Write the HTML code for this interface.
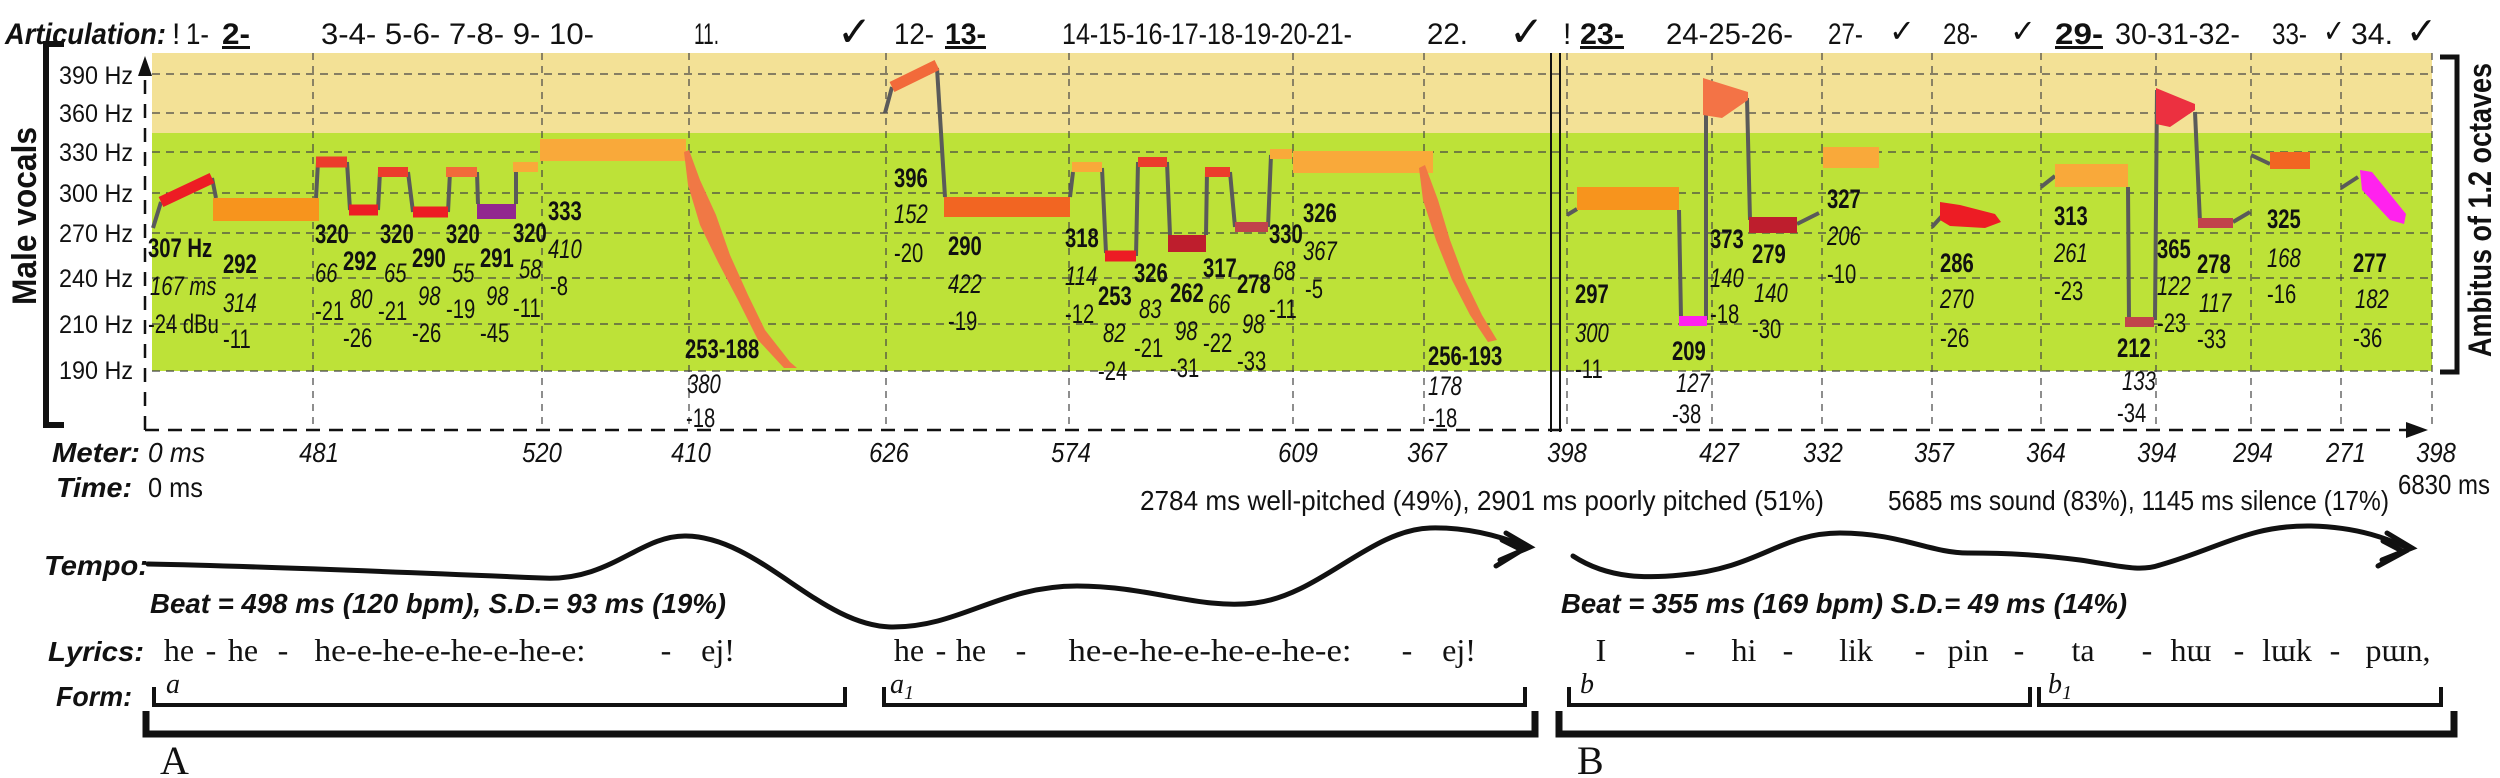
<!DOCTYPE html>
<html><head><meta charset="utf-8"><style>
html,body{margin:0;padding:0;background:#fff;}
svg{display:block;}
text{font-family:"Liberation Sans",sans-serif;fill:#111;}
.s text, text.s{font-family:"Liberation Serif",serif;}
.n{font-size:27px;}
.b{font-weight:bold;}
.i{font-style:italic;}
.bi{font-weight:bold;font-style:italic;}
.g{stroke:#5a5a5a;stroke-width:4;fill:none;}
.dv{stroke:#444;stroke-width:1.2;stroke-dasharray:7 6;fill:none;}
.dh{stroke:#444;stroke-width:1.2;stroke-dasharray:8 6;fill:none;}
</style></head><body>
<svg width="2500" height="778" viewBox="0 0 2500 778" xmlns="http://www.w3.org/2000/svg">
<rect x="152" y="53" width="2280" height="80" fill="#f3e196"/>
<rect x="152" y="133" width="2280" height="238" fill="#bde238"/>
<g class="dh">
<path d="M152 74H2432M152 113H2432M152 152H2432M152 193H2432M152 233H2432M152 278H2432M152 324H2432M152 371H2432"/>
</g>
<g class="dv">
<path d="M313 53V430M542 53V430M689 53V430M886 53V430M1069 53V430M1293 53V430M1424 53V430M1567 53V430M1712 53V430M1822 53V430M1932 53V430M2041 53V430M2156 53V430M2251 53V430M2341 53V430M2432 53V430"/>
</g>
<path d="M145 430V70" stroke="#111" stroke-width="2.5" stroke-dasharray="14 10" fill="none"/>
<path d="M138 76L145 56L152 76Z" fill="#111"/>
<path d="M145 430H2418" stroke="#111" stroke-width="2.5" stroke-dasharray="14 9" fill="none"/>
<path d="M2406 422L2428 430L2406 438Z" fill="#111"/>
<path d="M1551 53V432M1560 53V432" stroke="#111" stroke-width="2"/>
<path d="M64 44H46V425H64" stroke="#111" stroke-width="6" fill="none"/>
<path d="M2440 57H2457V372H2440" stroke="#111" stroke-width="5" fill="none"/>
<text class="b" font-size="34" transform="translate(36,305) rotate(-90)" textLength="178" lengthAdjust="spacingAndGlyphs">Male vocals</text>
<text class="b" font-size="32" transform="translate(2491,357) rotate(-90)" textLength="294" lengthAdjust="spacingAndGlyphs">Ambitus of 1.2 octaves</text>
<g font-size="25">
<text x="59" y="84" textLength="74" lengthAdjust="spacingAndGlyphs">390 Hz</text>
<text x="59" y="122" textLength="74" lengthAdjust="spacingAndGlyphs">360 Hz</text>
<text x="59" y="161" textLength="74" lengthAdjust="spacingAndGlyphs">330 Hz</text>
<text x="59" y="202" textLength="74" lengthAdjust="spacingAndGlyphs">300 Hz</text>
<text x="59" y="242" textLength="74" lengthAdjust="spacingAndGlyphs">270 Hz</text>
<text x="59" y="287" textLength="74" lengthAdjust="spacingAndGlyphs">240 Hz</text>
<text x="59" y="333" textLength="74" lengthAdjust="spacingAndGlyphs">210 Hz</text>
<text x="59" y="379" textLength="74" lengthAdjust="spacingAndGlyphs">190 Hz</text>
</g>
<g class="g">
<path d="M153 228L161 202M212 178L216 198M316 198L318 162M347 162L350 210M378 210L380 172M408 172L413 212M448 212L450 172M477 172L478 204M516 204L516 167"/>
<path d="M885 113L892 87M937 68L945 197M1070 197L1073 172M1102 168L1106 253M1136 256L1138 162M1167 162L1170 235M1206 235L1207 172M1230 172L1235 227M1268 227L1271 155"/>
<path d="M1567 215L1577 209M1679 210L1681 318M1706 320L1706 82M1747 98L1750 220M1797 224L1819 213M1932 227L1942 216M2041 187L2055 176M2128 187L2129 320M2155 320L2157 90M2195 112L2200 222M2233 222L2250 212M2251 155L2270 164M2341 188L2358 177"/>
</g>
<g>
<path d="M161 202L212 178" stroke="#ed1c24" stroke-width="11"/>
<rect x="213" y="198" width="106" height="23" fill="#f7941d"/>
<path d="M316 162H347" stroke="#ec3c2c" stroke-width="11"/>
<path d="M349 210H378" stroke="#ed1c24" stroke-width="11"/>
<path d="M378 172H408" stroke="#ec3c2c" stroke-width="10"/>
<path d="M413 212H448" stroke="#ed1c24" stroke-width="11"/>
<path d="M446 172H477" stroke="#f26a3a" stroke-width="10"/>
<rect x="477" y="204" width="39" height="15" fill="#92278f"/>
<path d="M513 167H538" stroke="#f9a93a" stroke-width="10"/>
<rect x="540" y="139" width="146" height="22" fill="#f9a93a"/>
<path d="M689 150L700 180L716 215L730 255L748 295L765 330L790 362L797 368L784 368L758 340L738 300L718 262L700 225L688 185L684 152Z" fill="#f07845"/>
<path d="M892 87L937 65" stroke="#f26a3a" stroke-width="11"/>
<rect x="944" y="197" width="126" height="20" fill="#f26522"/>
<path d="M1072 167H1102" stroke="#f9a93a" stroke-width="10"/>
<path d="M1105 256H1136" stroke="#ed1c24" stroke-width="11"/>
<path d="M1138 162H1167" stroke="#ec3c2c" stroke-width="10"/>
<rect x="1168" y="235" width="38" height="17" fill="#be1e2d"/>
<path d="M1205 172H1230" stroke="#ec3c2c" stroke-width="10"/>
<path d="M1235 227H1268" stroke="#c1434b" stroke-width="10"/>
<path d="M1270 154H1292" stroke="#f9a93a" stroke-width="10"/>
<rect x="1293" y="151" width="140" height="22" fill="#f9a93a"/>
<path d="M1425 165L1438 200L1450 240L1465 280L1482 315L1497 340L1488 342L1470 315L1452 280L1436 240L1423 200L1419 168Z" fill="#f07845"/>
<rect x="1577" y="187" width="102" height="23" fill="#f7941d"/>
<path d="M1679 321H1707" stroke="#ff22ee" stroke-width="10"/>
<path d="M1703 78L1748 92L1748 100L1722 118L1703 115Z" fill="#f37346"/>
<rect x="1749" y="217" width="48" height="16" fill="#be1e2d"/>
<rect x="1823" y="147" width="56" height="21" fill="#f9a93a"/>
<path d="M1940 202L1960 205L1995 214L2001 222L1985 228L1950 226L1940 220Z" fill="#ed1c24"/>
<rect x="2055" y="164" width="73" height="23" fill="#f9a93a"/>
<path d="M2125 322H2154" stroke="#c1434b" stroke-width="10"/>
<path d="M2156 88L2195 104L2195 110L2170 127L2156 124Z" fill="#ec3040"/>
<path d="M2198 223H2233" stroke="#c1434b" stroke-width="10"/>
<rect x="2270" y="152" width="40" height="17" fill="#f26522"/>
<path d="M2360 170L2372 172L2406 214L2404 224L2390 220L2362 190Z" fill="#ff22ee"/>
</g>
<g class="n">
<text class="b" transform="translate(148,257) scale(.75 1)">307 Hz</text>
<text class="i" transform="translate(150,295) scale(.75 1)">167 ms</text>
<text transform="translate(148,333) scale(.75 1)">-24 dBu</text>
<text class="b" transform="translate(223,273) scale(.75 1)">292</text>
<text class="i" transform="translate(223,312) scale(.75 1)">314</text>
<text transform="translate(223,348) scale(.75 1)">-11</text>
<text class="b" transform="translate(315,243) scale(.75 1)">320</text>
<text class="i" transform="translate(315,282) scale(.75 1)">66</text>
<text transform="translate(315,320) scale(.75 1)">-21</text>
<text class="b" transform="translate(343,270) scale(.75 1)">292</text>
<text class="i" transform="translate(350,308) scale(.75 1)">80</text>
<text transform="translate(343,347) scale(.75 1)">-26</text>
<text class="b" transform="translate(380,243) scale(.75 1)">320</text>
<text class="i" transform="translate(384,282) scale(.75 1)">65</text>
<text transform="translate(378,320) scale(.75 1)">-21</text>
<text class="b" transform="translate(412,267) scale(.75 1)">290</text>
<text class="i" transform="translate(418,305) scale(.75 1)">98</text>
<text transform="translate(412,342) scale(.75 1)">-26</text>
<text class="b" transform="translate(446,243) scale(.75 1)">320</text>
<text class="i" transform="translate(452,282) scale(.75 1)">55</text>
<text transform="translate(446,318) scale(.75 1)">-19</text>
<text class="b" transform="translate(480,267) scale(.75 1)">291</text>
<text class="i" transform="translate(486,305) scale(.75 1)">98</text>
<text transform="translate(480,342) scale(.75 1)">-45</text>
<text class="b" transform="translate(513,242) scale(.75 1)">320</text>
<text class="i" transform="translate(519,278) scale(.75 1)">58</text>
<text transform="translate(513,317) scale(.75 1)">-11</text>
<text class="b" transform="translate(548,220) scale(.75 1)">333</text>
<text class="i" transform="translate(548,258) scale(.75 1)">410</text>
<text transform="translate(550,295) scale(.75 1)">-8</text>
<text class="b" transform="translate(685,358) scale(.75 1)">253-188</text>
<text class="i" transform="translate(687,393) scale(.75 1)">380</text>
<text transform="translate(686,427) scale(.75 1)">-18</text>
<text class="b" transform="translate(894,187) scale(.75 1)">396</text>
<text class="i" transform="translate(894,223) scale(.75 1)">152</text>
<text transform="translate(894,262) scale(.75 1)">-20</text>
<text class="b" transform="translate(948,255) scale(.75 1)">290</text>
<text class="i" transform="translate(948,293) scale(.75 1)">422</text>
<text transform="translate(948,330) scale(.75 1)">-19</text>
<text class="b" transform="translate(1065,247) scale(.75 1)">318</text>
<text class="i" transform="translate(1065,285) scale(.75 1)">114</text>
<text transform="translate(1065,323) scale(.75 1)">-12</text>
<text class="b" transform="translate(1098,305) scale(.75 1)">253</text>
<text class="i" transform="translate(1103,342) scale(.75 1)">82</text>
<text transform="translate(1098,380) scale(.75 1)">-24</text>
<text class="b" transform="translate(1134,282) scale(.75 1)">326</text>
<text class="i" transform="translate(1139,318) scale(.75 1)">83</text>
<text transform="translate(1134,357) scale(.75 1)">-21</text>
<text class="b" transform="translate(1170,302) scale(.75 1)">262</text>
<text class="i" transform="translate(1175,340) scale(.75 1)">98</text>
<text transform="translate(1170,377) scale(.75 1)">-31</text>
<text class="b" transform="translate(1203,277) scale(.75 1)">317</text>
<text class="i" transform="translate(1208,313) scale(.75 1)">66</text>
<text transform="translate(1203,352) scale(.75 1)">-22</text>
<text class="b" transform="translate(1237,293) scale(.75 1)">278</text>
<text class="i" transform="translate(1242,333) scale(.75 1)">98</text>
<text transform="translate(1237,370) scale(.75 1)">-33</text>
<text class="b" transform="translate(1269,243) scale(.75 1)">330</text>
<text class="i" transform="translate(1273,280) scale(.75 1)">68</text>
<text transform="translate(1269,318) scale(.75 1)">-11</text>
<text class="b" transform="translate(1303,222) scale(.75 1)">326</text>
<text class="i" transform="translate(1303,260) scale(.75 1)">367</text>
<text transform="translate(1305,298) scale(.75 1)">-5</text>
<text class="b" transform="translate(1428,365) scale(.75 1)">256-193</text>
<text class="i" transform="translate(1428,395) scale(.75 1)">178</text>
<text transform="translate(1428,427) scale(.75 1)">-18</text>
<text class="b" transform="translate(1575,303) scale(.75 1)">297</text>
<text class="i" transform="translate(1575,342) scale(.75 1)">300</text>
<text transform="translate(1575,378) scale(.75 1)">-11</text>
<text class="b" transform="translate(1672,360) scale(.75 1)">209</text>
<text class="i" transform="translate(1676,392) scale(.75 1)">127</text>
<text transform="translate(1672,423) scale(.75 1)">-38</text>
<text class="b" transform="translate(1710,248) scale(.75 1)">373</text>
<text class="i" transform="translate(1710,287) scale(.75 1)">140</text>
<text transform="translate(1710,323) scale(.75 1)">-18</text>
<text class="b" transform="translate(1752,263) scale(.75 1)">279</text>
<text class="i" transform="translate(1754,302) scale(.75 1)">140</text>
<text transform="translate(1752,338) scale(.75 1)">-30</text>
<text class="b" transform="translate(1827,208) scale(.75 1)">327</text>
<text class="i" transform="translate(1827,245) scale(.75 1)">206</text>
<text transform="translate(1827,283) scale(.75 1)">-10</text>
<text class="b" transform="translate(1940,272) scale(.75 1)">286</text>
<text class="i" transform="translate(1940,308) scale(.75 1)">270</text>
<text transform="translate(1940,347) scale(.75 1)">-26</text>
<text class="b" transform="translate(2054,225) scale(.75 1)">313</text>
<text class="i" transform="translate(2054,262) scale(.75 1)">261</text>
<text transform="translate(2054,300) scale(.75 1)">-23</text>
<text class="b" transform="translate(2117,357) scale(.75 1)">212</text>
<text class="i" transform="translate(2122,390) scale(.75 1)">133</text>
<text transform="translate(2117,422) scale(.75 1)">-34</text>
<text class="b" transform="translate(2157,258) scale(.75 1)">365</text>
<text class="i" transform="translate(2157,295) scale(.75 1)">122</text>
<text transform="translate(2157,332) scale(.75 1)">-23</text>
<text class="b" transform="translate(2197,273) scale(.75 1)">278</text>
<text class="i" transform="translate(2199,312) scale(.75 1)">117</text>
<text transform="translate(2197,348) scale(.75 1)">-33</text>
<text class="b" transform="translate(2267,228) scale(.75 1)">325</text>
<text class="i" transform="translate(2267,267) scale(.75 1)">168</text>
<text transform="translate(2267,303) scale(.75 1)">-16</text>
<text class="b" transform="translate(2353,272) scale(.75 1)">277</text>
<text class="i" transform="translate(2355,308) scale(.75 1)">182</text>
<text transform="translate(2353,347) scale(.75 1)">-36</text>
</g>
<g font-size="30">
<text class="bi" x="5" y="44" textLength="161" lengthAdjust="spacingAndGlyphs">Articulation:</text>
<text x="172" y="44">!</text>
<text x="186" y="44" textLength="23" lengthAdjust="spacingAndGlyphs">1-</text>
<text class="b" x="222" y="44" textLength="28" lengthAdjust="spacingAndGlyphs" text-decoration="underline">2-</text>
<text x="321" y="44" textLength="273" lengthAdjust="spacingAndGlyphs">3-4- 5-6- 7-8- 9- 10-</text>
<text x="694" y="44" textLength="25" lengthAdjust="spacingAndGlyphs">11.</text>
<text x="837" y="46" font-size="42" textLength="35" lengthAdjust="spacingAndGlyphs">✓</text>
<text x="894" y="44" textLength="40" lengthAdjust="spacingAndGlyphs">12-</text>
<text class="b" x="945" y="44" textLength="41" lengthAdjust="spacingAndGlyphs" text-decoration="underline">13-</text>
<text x="1062" y="44" textLength="290" lengthAdjust="spacingAndGlyphs">14-15-16-17-18-19-20-21-</text>
<text x="1427" y="44" textLength="41" lengthAdjust="spacingAndGlyphs">22.</text>
<text x="1509" y="46" font-size="42" textLength="35" lengthAdjust="spacingAndGlyphs">✓</text>
<text x="1563" y="44">!</text>
<text class="b" x="1580" y="44" textLength="44" lengthAdjust="spacingAndGlyphs" text-decoration="underline">23-</text>
<text x="1666" y="44" textLength="127" lengthAdjust="spacingAndGlyphs">24-25-26-</text>
<text x="1828" y="44" textLength="35" lengthAdjust="spacingAndGlyphs">27-</text>
<text x="1889" y="42" font-size="32" textLength="26" lengthAdjust="spacingAndGlyphs">✓</text>
<text x="1943" y="44" textLength="35" lengthAdjust="spacingAndGlyphs">28-</text>
<text x="2010" y="42" font-size="32" textLength="26" lengthAdjust="spacingAndGlyphs">✓</text>
<text class="b" x="2055" y="44" textLength="48" lengthAdjust="spacingAndGlyphs" text-decoration="underline">29-</text>
<text x="2115" y="44" textLength="125" lengthAdjust="spacingAndGlyphs">30-31-32-</text>
<text x="2272" y="44" textLength="35" lengthAdjust="spacingAndGlyphs">33-</text>
<text x="2323" y="42" font-size="32" textLength="22" lengthAdjust="spacingAndGlyphs">✓</text>
<text x="2351" y="44" textLength="42" lengthAdjust="spacingAndGlyphs">34.</text>
<text x="2406" y="44" font-size="38" textLength="31" lengthAdjust="spacingAndGlyphs">✓</text>
</g>
<g font-size="28">
<text class="bi" x="52" y="462" textLength="88" lengthAdjust="spacingAndGlyphs">Meter:</text>
<text class="i" x="148" y="462" textLength="57" lengthAdjust="spacingAndGlyphs">0 ms</text>
<g class="i" text-anchor="middle">
<text transform="translate(319,462) scale(.85 1)">481</text>
<text transform="translate(542,462) scale(.85 1)">520</text>
<text transform="translate(691,462) scale(.85 1)">410</text>
<text transform="translate(889,462) scale(.85 1)">626</text>
<text transform="translate(1071,462) scale(.85 1)">574</text>
<text transform="translate(1298,462) scale(.85 1)">609</text>
<text transform="translate(1427,462) scale(.85 1)">367</text>
<text transform="translate(1567,462) scale(.85 1)">398</text>
<text transform="translate(1719,462) scale(.85 1)">427</text>
<text transform="translate(1823,462) scale(.85 1)">332</text>
<text transform="translate(1934,462) scale(.85 1)">357</text>
<text transform="translate(2046,462) scale(.85 1)">364</text>
<text transform="translate(2157,462) scale(.85 1)">394</text>
<text transform="translate(2253,462) scale(.85 1)">294</text>
<text transform="translate(2346,462) scale(.85 1)">271</text>
<text transform="translate(2436,462) scale(.85 1)">398</text>
</g>
<text class="bi" x="56" y="497" textLength="76" lengthAdjust="spacingAndGlyphs">Time:</text>
<text x="148" y="497" textLength="55" lengthAdjust="spacingAndGlyphs">0 ms</text>
<text x="1140" y="510" textLength="684" lengthAdjust="spacingAndGlyphs">2784 ms well-pitched (49%), 2901 ms poorly pitched (51%)</text>
<text x="1888" y="510" textLength="501" lengthAdjust="spacingAndGlyphs">5685 ms sound (83%), 1145 ms silence (17%)</text>
<text x="2398" y="494" textLength="92" lengthAdjust="spacingAndGlyphs">6830 ms</text>
<text class="bi" x="44" y="575" textLength="104" lengthAdjust="spacingAndGlyphs">Tempo:</text>
<text class="bi" x="150" y="613" textLength="576" lengthAdjust="spacingAndGlyphs">Beat = 498 ms (120 bpm), S.D.= 93 ms (19%)</text>
<text class="bi" x="1561" y="613" textLength="566" lengthAdjust="spacingAndGlyphs">Beat = 355 ms (169 bpm) S.D.= 49 ms (14%)</text>
<text class="bi" x="48" y="661" textLength="96" lengthAdjust="spacingAndGlyphs">Lyrics:</text>
<text class="bi" x="56" y="706" textLength="76" lengthAdjust="spacingAndGlyphs">Form:</text>
</g>
<g fill="none" stroke="#111" stroke-width="5" stroke-linecap="round">
<path d="M148,564 C250,566 400,572 542,578 C610,582 640,535 686,536 C760,537 820,627 893,627 C960,627 1000,586 1077,586 C1150,586 1200,610 1255,603 C1320,595 1370,530 1430,528 C1470,527 1505,538 1527,547"/>
<path d="M1506,533 L1530,547 L1500,560 M1502,540 L1522,550 L1496,566"/>
<path d="M1573,556 C1610,580 1650,578 1681,575 C1760,568 1780,533 1840,533 C1900,533 1930,553 1968,553 C2010,553 2040,555 2080,560 C2120,566 2140,572 2160,565 C2220,548 2250,525 2311,526 C2360,527 2390,540 2408,548"/>
<path d="M2387,533 L2412,548 L2382,560 M2383,541 L2404,552 L2378,566"/>
</g>
<g class="s" font-size="32" text-anchor="middle">
<text x="179" y="661">he</text><text x="211" y="661">-</text><text x="243" y="661">he</text><text x="283" y="661">-</text>
<text x="450" y="661" textLength="271" lengthAdjust="spacingAndGlyphs">he-e-he-e-he-e-he-e:</text>
<text x="666" y="661">-</text><text x="718" y="661">ej!</text>
<text x="909" y="661">he</text><text x="941" y="661">-</text><text x="971" y="661">he</text><text x="1021" y="661">-</text>
<text x="1210" y="661" textLength="283" lengthAdjust="spacingAndGlyphs">he-e-he-e-he-e-he-e:</text>
<text x="1407" y="661">-</text><text x="1459" y="661">ej!</text>
<text x="1601" y="661">I</text><text x="1690" y="661">-</text><text x="1744" y="661">hi</text><text x="1788" y="661">-</text>
<text x="1856" y="661">lik</text><text x="1920" y="661">-</text><text x="1968" y="661">pin</text><text x="2019" y="661">-</text>
<text x="2083" y="661">ta</text><text x="2147" y="661">-</text><text x="2191" y="661">hɯ</text><text x="2239" y="661">-</text>
<text x="2287" y="661">lɯk</text><text x="2335" y="661">-</text><text x="2398" y="661">pɯn,</text>
</g>
<g fill="none" stroke="#111" stroke-width="4">
<path d="M154 687V705H845V687M884 687V705H1525V687M1569 687V705H2030V687M2039 687V705H2441V687"/>
</g>
<g fill="none" stroke="#111" stroke-width="7">
<path d="M146 711V734H1535V711M1559 711V734H2454V711"/>
</g>
<g class="s i" font-size="28">
<text x="166" y="693">a</text>
<text x="890" y="693">a<tspan font-size="20" dy="6">1</tspan></text>
<text x="1580" y="693">b</text>
<text x="2048" y="693">b<tspan font-size="20" dy="6">1</tspan></text>
</g>
<text class="s" x="160" y="774" font-size="40">A</text>
<text class="s" x="1577" y="774" font-size="40">B</text>
</svg>
</body></html>
